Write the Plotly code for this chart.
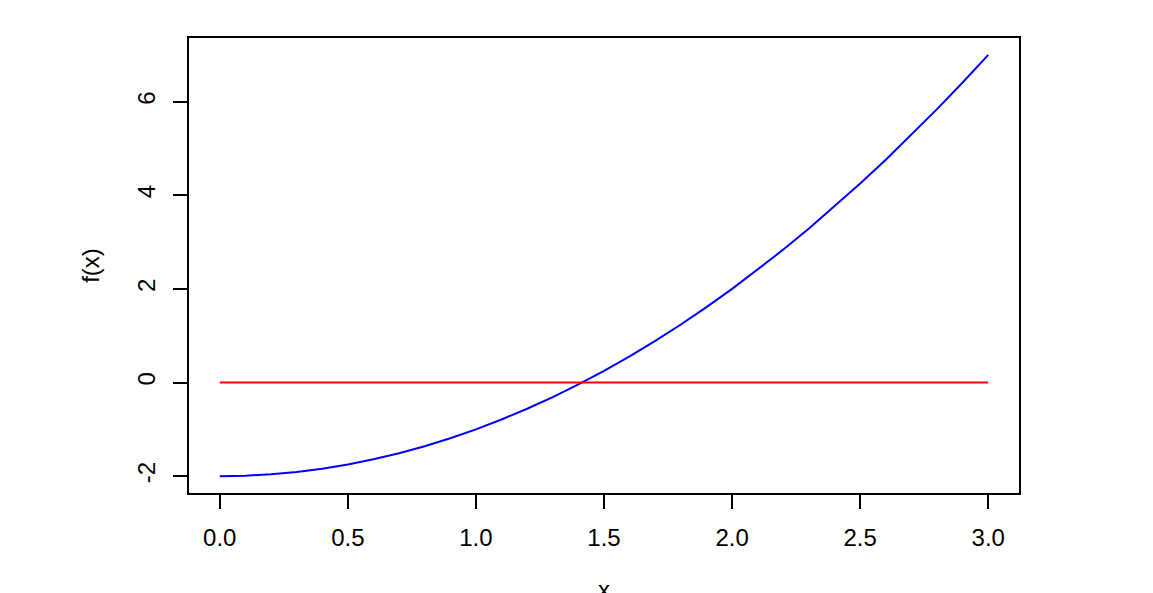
import plotly.graph_objects as go

x_vals = [0.0, 0.1, 0.2, 0.3, 0.4, 0.5, 0.6, 0.7, 0.8, 0.9, 1.0, 1.1, 1.2, 1.3, 1.4, 1.5,
          1.6, 1.7, 1.8, 1.9, 2.0, 2.1, 2.2, 2.3, 2.4, 2.5, 2.6, 2.7, 2.8, 2.9, 3.0]
f_vals = [-2.0, -1.99, -1.96, -1.91, -1.84, -1.75, -1.64, -1.51, -1.36, -1.19, -1.0,
          -0.79, -0.56, -0.31, -0.04, 0.25, 0.56, 0.89, 1.24, 1.61, 2.0, 2.41, 2.84,
          3.29, 3.76, 4.25, 4.76, 5.29, 5.84, 6.41, 7.0]
zero_x = [0.0, 3.0]
zero_y = [0.0, 0.0]
x_ticks = [0.0, 0.5, 1.0, 1.5, 2.0, 2.5, 3.0]
x_tick_text = ["0.0", "0.5", "1.0", "1.5", "2.0", "2.5", "3.0"]
y_ticks = [-2, 0, 2, 4, 6]
y_tick_text = ["-2", "0", "2", "4", "6"]

fig = go.Figure()
fig.add_trace(go.Scatter(x=x_vals, y=f_vals, mode="lines",
                         line=dict(color="#0000ff", width=2), showlegend=False))
fig.add_trace(go.Scatter(x=zero_x, y=zero_y, mode="lines",
                         line=dict(color="#ff0000", width=2), showlegend=False))

font = dict(family="Liberation Sans, Arial, sans-serif", size=24, color="#000000")

fig.update_layout(
    width=1153, height=593,
    margin=dict(l=181, r=142, t=30, b=108, pad=0),
    paper_bgcolor="white", plot_bgcolor="white",
    font=font,
    showlegend=False,
    xaxis=dict(range=[-0.12, 3.12], tickvals=x_ticks, ticktext=x_tick_text,
               showgrid=False, zeroline=False, showline=True, mirror=True,
               linecolor="#000000", linewidth=1.5, automargin=False,
               ticks="outside", ticklen=14, tickwidth=1.5, tickcolor="#000000",
               ticklabelstandoff=8, tickfont=font),
    yaxis=dict(range=[-2.36, 7.36], tickvals=y_ticks, ticktext=y_tick_text,
               showgrid=False, zeroline=False, showline=True, mirror=True,
               linecolor="#000000", linewidth=1.5, automargin=False,
               ticks="outside", ticklen=14, tickwidth=1.5, tickcolor="#000000",
               tickangle=-90, ticklabelstandoff=9, tickfont=font,
               title=dict(text="f(x)", font=font, standoff=26)),
    annotations=[dict(text="x", xref="paper", yref="paper", x=0.5, y=-0.178,
                      xanchor="center", yanchor="top", showarrow=False, font=font)],
)

fig.write_html("out.html")
